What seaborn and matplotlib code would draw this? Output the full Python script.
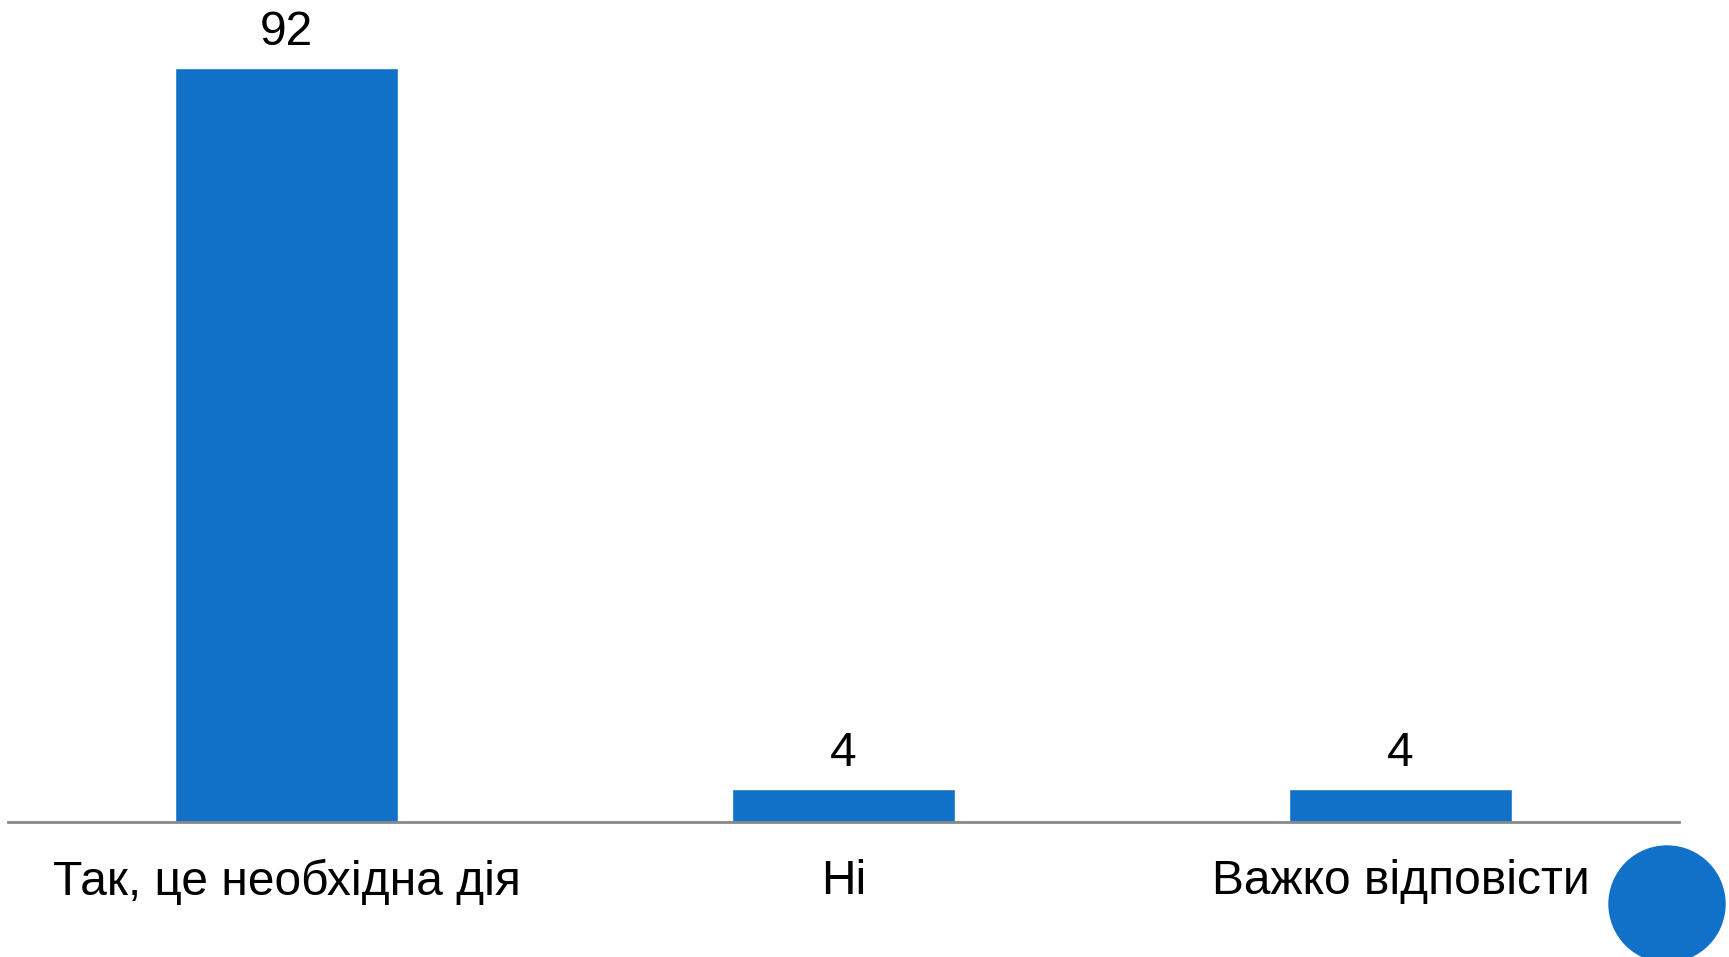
import matplotlib
matplotlib.use("Agg")
import matplotlib.pyplot as plt
import seaborn as sns
import pandas as pd
from matplotlib.patches import Ellipse

categories = ["Так, це необхідна дія", "Ні", "Важко відповісти"]
values = [92, 4, 4]

sns.set_theme(style="white")
plt.rcParams['font.family'] = ['Liberation Sans', 'DejaVu Sans']

W, H = 1729, 957
fig = plt.figure(figsize=(W / 100, H / 100), dpi=100)
ax = fig.add_axes([8 / W, (H - 821.7) / H, (1679 - 8) / W, 821.7 / H])

df = pd.DataFrame({"cat": categories, "val": values})
color = "#1170C7"
sns.barplot(data=df, x="cat", y="val", color=color, width=0.40,
            saturation=1, ax=ax)

ax.set_xlim(-0.5, 2.5)
ax.set_ylim(0, 100.3)
for s in ["top", "right", "left"]:
    ax.spines[s].set_visible(False)
ax.spines["bottom"].set_color("#888888")
ax.spines["bottom"].set_linewidth(2)
ax.set_yticks([])
ax.set_xlabel("")
ax.set_ylabel("")
ax.tick_params(axis="x", length=0, pad=27, labelsize=34.5, colors="black")

for c in ax.containers:
    ax.bar_label(c, labels=[str(v) for v in values], padding=9,
                 fontsize=34.5, color="black")

fig.patches.append(Ellipse((1667 / W, 1 - 904 / H), 116 / W, 116 / H,
                           transform=fig.transFigure, color=color,
                           zorder=5))

fig.savefig("out.png", dpi=100)
